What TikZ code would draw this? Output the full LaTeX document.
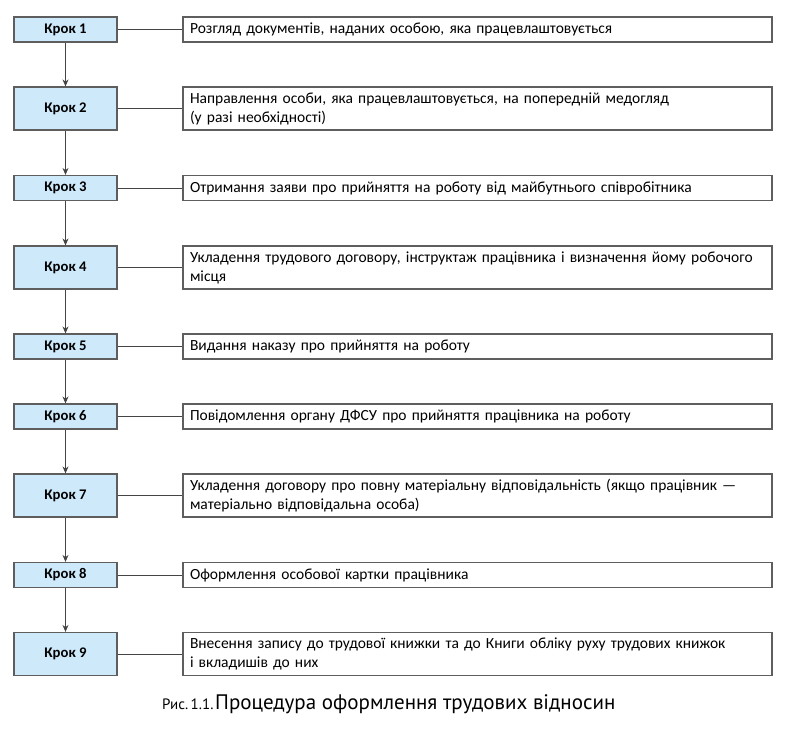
\documentclass[tikz,border=0pt]{standalone}
\usepackage{fontspec}
\setmainfont{Carlito}
\newfontfamily\capfont{PT Sans}
\usetikzlibrary{arrows.meta}
\definecolor{stepfill}{HTML}{CDE9FA}
\definecolor{edgegray}{HTML}{5E5E5E}
\definecolor{linegray}{HTML}{444444}
\tikzset{
  lbox/.style={draw=edgegray, line width=1.2pt, fill=stepfill, minimum width=103pt, inner sep=0pt,
    font=\fontsize{14.7}{17}\selectfont\bfseries},
  rbox/.style={draw=edgegray, line width=1.2pt, fill=white, minimum width=589pt, text width=575pt,
    inner xsep=7pt, inner ysep=0pt, align=left, font=\fontsize{15.5}{19}\selectfont},
  flowarrow/.style={draw=linegray, line width=0.9pt, -{Stealth[length=7pt,width=6pt]}},
  link/.style={draw=linegray, line width=0.9pt}
}
\begin{document}
\begin{tikzpicture}[x=1pt,y=-1pt]
\useasboundingbox (0,0) rectangle (786,731);
% left step boxes
\node[lbox, minimum height=25pt] (k1) at (65.5,29.5) {Крок 1};
\node[lbox, minimum height=43pt] (k2) at (65.5,108.5) {Крок 2};
\node[lbox, minimum height=25pt] (k3) at (65.5,188) {Крок 3};
\node[lbox, minimum height=43pt] (k4) at (65.5,267.5) {Крок 4};
\node[lbox, minimum height=25pt] (k5) at (65.5,346.5) {Крок 5};
\node[lbox, minimum height=25pt] (k6) at (65.5,416.5) {Крок 6};
\node[lbox, minimum height=43pt] (k7) at (65.5,495.5) {Крок 7};
\node[lbox, minimum height=25pt] (k8) at (65.5,575) {Крок 8};
\node[lbox, minimum height=43pt] (k9) at (65.5,654) {Крок 9};
% right description boxes
\node[rbox, minimum height=25pt] (d1) at (477.5,29.5) {Розгляд документів, наданих особою, яка працевлаштовується};
\node[rbox, minimum height=43pt] (d2) at (477.5,108.5) {Направлення особи, яка працевлаштовується, на попередній медогляд\\(у разі необхідності)};
\node[rbox, minimum height=25pt] (d3) at (477.5,188) {Отримання заяви про прийняття на роботу від майбутнього співробітника};
\node[rbox, minimum height=43pt] (d4) at (477.5,267.5) {Укладення трудового договору, інструктаж працівника і визначення йому робочого\\місця};
\node[rbox, minimum height=25pt] (d5) at (477.5,346.5) {Видання наказу про прийняття на роботу};
\node[rbox, minimum height=25pt] (d6) at (477.5,416.5) {Повідомлення органу ДФСУ про прийняття працівника на роботу};
\node[rbox, minimum height=43pt] (d7) at (477.5,495.5) {Укладення договору про повну матеріальну відповідальність (якщо працівник —\\матеріально відповідальна особа)};
\node[rbox, minimum height=25pt] (d8) at (477.5,575) {Оформлення особової картки працівника};
\node[rbox, minimum height=43pt] (d9) at (477.5,654) {Внесення запису до трудової книжки та до Книги обліку руху трудових книжок\\і вкладишів до них};
% links
\foreach \i in {1,...,9} { \draw[link] (k\i.east) -- (d\i.west); }
% arrows
\foreach \i/\j in {1/2,2/3,3/4,4/5,5/6,6/7,7/8,8/9} { \draw[flowarrow] (k\i.south) -- (k\j.north); }
% caption
\node[anchor=base west, inner sep=0pt] (cap) at (162,709) {\capfont{\fontsize{15}{17}\selectfont Рис.\,1.1.}\,{\fontsize{21}{24}\selectfont Процедура оформлення трудових відносин}};
\end{tikzpicture}
\end{document}
